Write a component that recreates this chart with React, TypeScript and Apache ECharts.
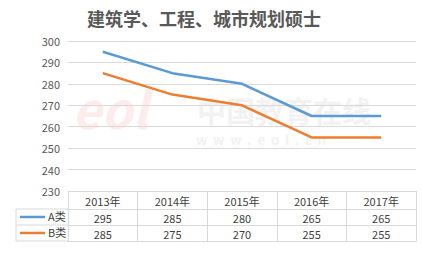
import React, { useEffect, useRef } from "react";
import * as echarts from "echarts";

const categories = ["2013年", "2014年", "2015年", "2016年", "2017年"];
const seriesA = [295, 285, 280, 265, 265];
const seriesB = [285, 275, 270, 255, 255];
const nameA = "A类";
const nameB = "B类";
const title = "建筑学、工程、城市规划硕士";

const BLUE = "#5B9BD5";
const ORANGE = "#ED7D31";
const GRID = "#d9d9d9";
const TXT = "#595959";
const FONT = "'Noto Sans CJK SC', 'Noto Sans', sans-serif";

export default function App() {
  const ref = useRef<HTMLDivElement>(null);
  useEffect(() => {
    if (!ref.current) return;
    const chart = echarts.init(ref.current, undefined, { renderer: "svg" });
    const valueAxis = (offset: number, values: number[] | null, showLine: boolean) => ({
      type: "category",
      data: categories,
      position: "bottom",
      offset,
      gridIndex: 0,
      axisLine: { show: showLine, lineStyle: { color: GRID, width: 1 } },
      axisTick: { show: false },
      axisLabel: {
        show: !!values,
        margin: 3,
        fontSize: 11,
        color: "#404040",
        fontFamily: FONT,
        formatter: (_v: string, i: number) => (values ? String(values[i]) : ""),
      },
    });
    chart.setOption({
      animation: false,
      textStyle: { fontFamily: FONT },
      title: {
        text: title,
        left: 82,
        top: 4,
        textStyle: { fontSize: 18, fontWeight: "bold", color: TXT, fontFamily: FONT },
      },
      grid: { left: 68, right: 6, top: 41, bottom: 63 },
      xAxis: [
        {
          type: "category",
          data: categories,
          position: "bottom",
          boundaryGap: true,
          axisLine: { show: true, lineStyle: { color: GRID, width: 1 } },
          axisTick: { show: true, length: 50, inside: false, lineStyle: { color: GRID } },
          axisLabel: { margin: 4, fontSize: 11, color: "#404040", fontFamily: FONT },
        },
        valueAxis(18, seriesA, true),
        valueAxis(34, seriesB, true),
        valueAxis(50, null, true),
      ],
      yAxis: {
        type: "value",
        min: 230,
        max: 300,
        interval: 10,
        axisLine: { show: false },
        axisTick: { show: false },
        splitLine: { lineStyle: { color: GRID, width: 1 } },
        axisLabel: { fontSize: 11, color: TXT, margin: 8, fontFamily: FONT },
      },
      graphic: [
        {
          type: "text",
          left: 197,
          top: 95,
          z: -10,
          style: { text: "中国教育在线", fontSize: 29, lineHeight: 29, fontWeight: "bold", fill: "#f2f2f2", fontFamily: FONT },
        },
        {
          type: "text",
          left: 196,
          top: 133,
          z: -10,
          style: { text: "w  w  w  .  e  o  l  .  c  n", fontSize: 13, lineHeight: 12, fontWeight: "bold", fill: "#f2f2f2", fontFamily: FONT },
        },
        {
          type: "text",
          left: 72,
          top: 82,
          z: -10,
          style: { text: "eol", fontSize: 50, fontWeight: "bold", fontStyle: "italic", fill: "#fcecec", fontFamily: FONT },
        },
        { type: "line", shape: { x1: 16, y1: 209, x2: 68, y2: 209 }, style: { stroke: GRID, lineWidth: 1 } },
        { type: "line", shape: { x1: 16, y1: 225, x2: 68, y2: 225 }, style: { stroke: GRID, lineWidth: 1 } },
        { type: "line", shape: { x1: 16, y1: 241, x2: 68, y2: 241 }, style: { stroke: GRID, lineWidth: 1 } },
        { type: "line", shape: { x1: 16, y1: 209, x2: 16, y2: 241 }, style: { stroke: GRID, lineWidth: 1 } },
        { type: "line", shape: { x1: 20, y1: 217, x2: 45, y2: 217 }, style: { stroke: BLUE, lineWidth: 2.5 } },
        { type: "line", shape: { x1: 20, y1: 233, x2: 45, y2: 233 }, style: { stroke: ORANGE, lineWidth: 2.5 } },
        {
          type: "text",
          left: 48,
          top: 210,
          style: { text: nameA, fontSize: 11, fill: "#404040", fontFamily: FONT },
        },
        {
          type: "text",
          left: 48,
          top: 226,
          style: { text: nameB, fontSize: 11, fill: "#404040", fontFamily: FONT },
        },
      ],
      series: [
        {
          name: nameA,
          type: "line",
          data: seriesA,
          symbol: "none",
          lineStyle: { color: BLUE, width: 2.5 },
          itemStyle: { color: BLUE },
        },
        {
          name: nameB,
          type: "line",
          data: seriesB,
          symbol: "none",
          lineStyle: { color: ORANGE, width: 2.5 },
          itemStyle: { color: ORANGE },
        },
      ],
    });
    return () => chart.dispose();
  }, []);
  return <div ref={ref} style={{ width: 422, height: 254, position: "absolute", left: 0, top: 0 }} />;
}
